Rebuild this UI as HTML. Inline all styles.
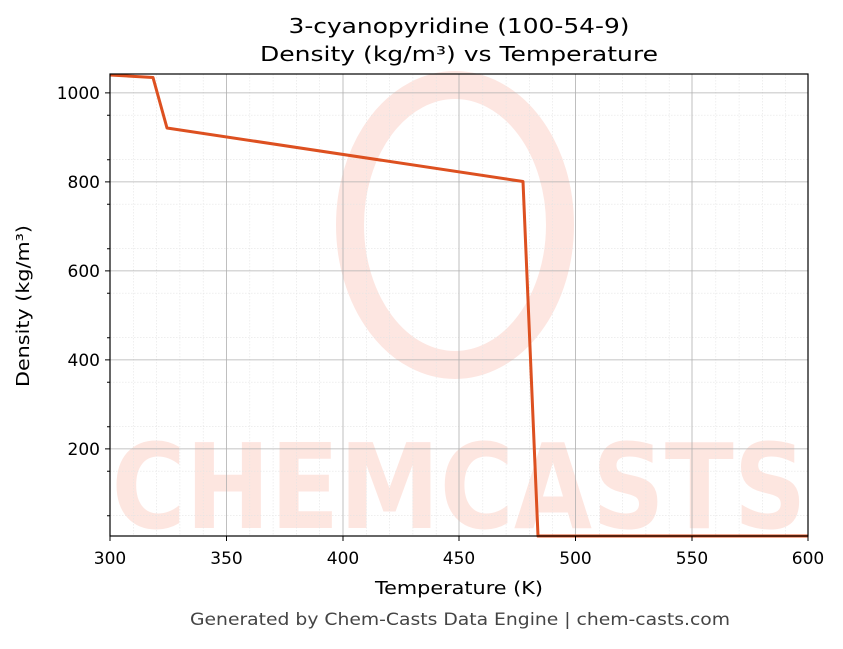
<!DOCTYPE html>
<html><head><meta charset="utf-8"><style>
body{margin:0;background:#fff;}
svg text{font-family:"DejaVu Sans","Liberation Sans",sans-serif;}
</style></head><body>
<svg width="843" height="644" viewBox="0 0 843 644" xmlns="http://www.w3.org/2000/svg">
<rect width="843" height="644" fill="#fff"/>
<g opacity="0.35">
<ellipse cx="455" cy="225" rx="105" ry="140" fill="none" stroke="#f9b8a8" stroke-width="28"/>
<text x="459" y="528" font-size="118" font-weight="bold" fill="#fbb8a8" text-anchor="middle" textLength="695" lengthAdjust="spacingAndGlyphs">CHEMCASTS</text>
</g>
<g stroke="#e4e4e4" stroke-width="0.6" stroke-dasharray="1.5,1.5">
<path d="M133.3 74V536M156.6 74V536M179.9 74V536M203.2 74V536M249.8 74V536M273.1 74V536M296.4 74V536M319.7 74V536M366.3 74V536M389.6 74V536M412.9 74V536M436.2 74V536M482.8 74V536M506.1 74V536M529.4 74V536M552.7 74V536M599.3 74V536M622.6 74V536M645.9 74V536M669.2 74V536M715.8 74V536M739.1 74V536M762.4 74V536M785.7 74V536"/>
<path d="M110 515.7H808M110 471.2H808M110 426.7H808M110 382.2H808M110 337.7H808M110 293.2H808M110 248.7H808M110 204.2H808M110 159.7H808M110 115.2H808"/>
</g>
<g stroke="#b0b0b0" stroke-width="0.8">
<path d="M226.5 74V536M343 74V536M459 74V536M575.5 74V536M692 74V536"/>
<path d="M110 448.9H808M110 359.9H808M110 270.9H808M110 181.9H808M110 92.9H808"/>
</g>
<polyline fill="none" stroke="#dd5020" stroke-width="3" stroke-linejoin="round" points="110,75 153,77.5 167,128 523,181.5 538,536 808,536"/>
<rect x="110" y="74" width="698" height="462" fill="none" stroke="#000" stroke-width="1.2"/>
<g stroke="#000" stroke-width="1">
<path d="M110 536v5M226.5 536v5M343 536v5M459 536v5M575.5 536v5M692 536v5M808 536v5"/>
<path d="M110 448.9h-5M110 359.9h-5M110 270.9h-5M110 181.9h-5M110 92.9h-5"/>
<path d="M110 515.7h-3M110 471.2h-3M110 426.7h-3M110 382.2h-3M110 337.7h-3M110 293.2h-3M110 248.7h-3M110 204.2h-3M110 159.7h-3M110 115.2h-3"/>
</g>
<g font-size="17" fill="#000">
<text x="110" y="564" text-anchor="middle">300</text>
<text x="226.5" y="564" text-anchor="middle">350</text>
<text x="343" y="564" text-anchor="middle">400</text>
<text x="459" y="564" text-anchor="middle">450</text>
<text x="575.5" y="564" text-anchor="middle">500</text>
<text x="692" y="564" text-anchor="middle">550</text>
<text x="808" y="564" text-anchor="middle">600</text>
<text x="100" y="455" text-anchor="end">200</text>
<text x="100" y="366" text-anchor="end">400</text>
<text x="100" y="277" text-anchor="end">600</text>
<text x="100" y="188" text-anchor="end">800</text>
<text x="100" y="99" text-anchor="end">1000</text>
</g>
<text x="459" y="594" font-size="18" text-anchor="middle" textLength="168" lengthAdjust="spacingAndGlyphs">Temperature (K)</text>
<text transform="translate(29,306) rotate(-90)" font-size="18" text-anchor="middle" textLength="162" lengthAdjust="spacingAndGlyphs">Density (kg/m³)</text>
<text x="459" y="33" font-size="20" text-anchor="middle" textLength="341" lengthAdjust="spacingAndGlyphs">3-cyanopyridine (100-54-9)</text>
<text x="459" y="61" font-size="20" text-anchor="middle" textLength="398" lengthAdjust="spacingAndGlyphs">Density (kg/m³) vs Temperature</text>
<text x="460" y="625" font-size="16.5" fill="#444" text-anchor="middle" textLength="540" lengthAdjust="spacingAndGlyphs">Generated by Chem-Casts Data Engine | chem-casts.com</text>
</svg>
</body></html>
